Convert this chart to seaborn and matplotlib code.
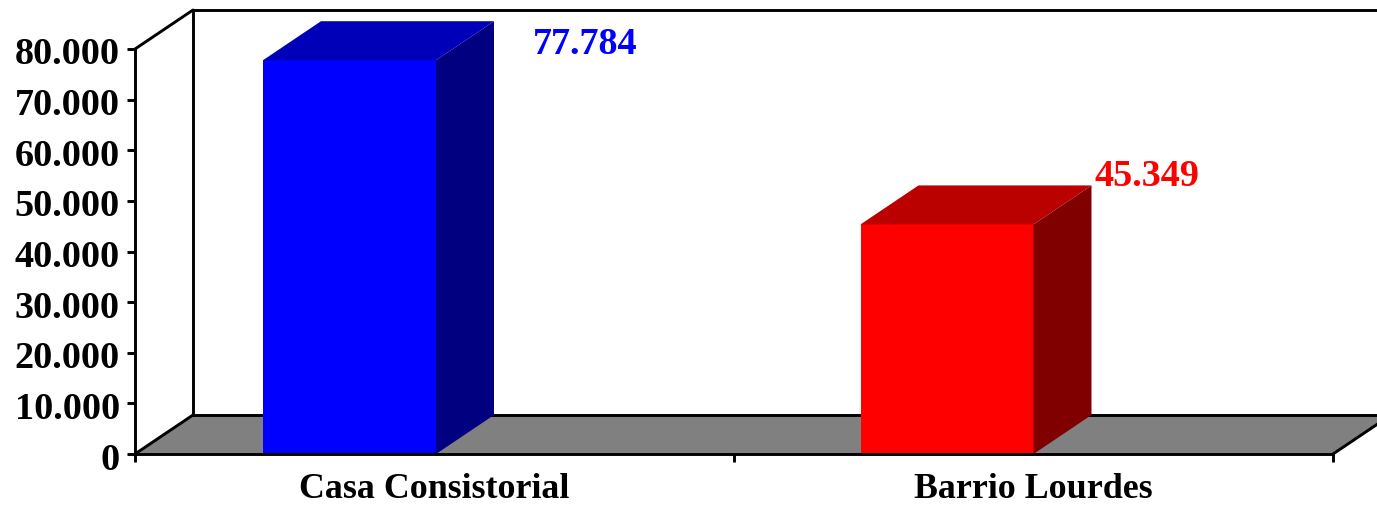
#!/usr/bin/env python3

import numpy as np
import pandas as pd
import seaborn as sns
import matplotlib.pyplot as plt
from matplotlib.patches import Polygon
from matplotlib.transforms import ScaledTranslation

categories = ["Casa Consistorial", "Barrio Lourdes"]
values = [77784, 45349]
value_labels = ["77.784", "45.349"]
ytick_values = [0, 10000, 20000, 30000, 40000, 50000, 60000, 70000, 80000]
ytick_labels = ["0", "10.000", "20.000", "30.000", "40.000", "50.000", "60.000", "70.000", "80.000"]

front_colors = ["#0000ff", "#ff0000"]
side_colors = ["#000080", "#800000"]
top_colors = ["#0000b8", "#bb0000"]
label_offsets = [97, 61]  # px right of the front face
label_dy = [-16, -48]

W, H = 1377, 505
DPI = 100
LEFT, RIGHT, TOP, BOTTOM = 135, 1333, 49, 454
DEPTH_X, DEPTH_Y = 58, 39
LW = 2.1

sns.set_theme(style="white")
plt.rcParams['font.family'] = ['Liberation Serif', 'DejaVu Serif']
plt.rcParams['font.weight'] = 'bold'

fig = plt.figure(figsize=(W / DPI, H / DPI), dpi=DPI, facecolor="white")
ax = fig.add_axes([LEFT / W, (H - BOTTOM) / H, (RIGHT - LEFT) / W, (BOTTOM - TOP) / H])

df = pd.DataFrame({"place": categories, "value": values})
sns.barplot(data=df, x="place", y="value", hue="place", palette=front_colors, saturation=1,
            width=173 / 597.5, legend=False, linewidth=0, ax=ax, zorder=3)

# bars sit left of the category centre, as the 3D depth shifts them
px_x = 597.5
xmin = 0 - (349.5 - LEFT) / px_x
xmax = xmin + (RIGHT - LEFT) / px_x
ax.set_xlim(xmin, xmax)
ax.set_ylim(0, 80000)
px_y = 80000 / (BOTTOM - TOP)
dx = DEPTH_X / px_x
dy = DEPTH_Y * px_y

for s in ["top", "right"]:
    ax.spines[s].set_visible(False)
for s in ["left", "bottom"]:
    ax.spines[s].set_linewidth(LW)
    ax.spines[s].set_color("black")
    ax.spines[s].set_zorder(5)

ax.set_yticks(ytick_values)
ax.set_yticklabels(ytick_labels, fontsize=27.5, fontweight="bold", color="black")
ax.set_xticks([xmin, (xmin + xmax) / 2, xmax])
ax.set_xticklabels([])
ax.set_xticks([(xmin + (xmin + xmax) / 2) / 2, ((xmin + xmax) / 2 + xmax) / 2], minor=True)
ax.set_xticklabels(categories, minor=True, fontsize=25.8, fontweight="bold", color="black")
ax.tick_params(axis="y", length=6, width=LW, color="black", pad=5, left=True)
ax.tick_params(axis="x", which="major", length=6, width=LW, color="black", bottom=True)
ax.tick_params(axis="x", which="minor", length=0, pad=14)
ax.set_xlabel("")
ax.set_ylabel("")
ax.patch.set_alpha(0)

# the tick labels sit a little under their ticks
shift = ScaledTranslation(0, -2 / DPI, fig.dpi_scale_trans)
for t in ax.get_yticklabels():
    t.set_transform(t.get_transform() + shift)

# floor and walls
ax.add_patch(Polygon([(xmin, 0), (xmin + dx, dy), (xmax + dx, dy), (xmax, 0)], closed=True,
                     facecolor="#808080", edgecolor="none", clip_on=False, zorder=1))
wall_top = 80000 + dy
line_kw = dict(color="black", lw=LW, clip_on=False, zorder=2, solid_capstyle="round")
ax.plot([xmin, xmin + dx], [0, dy], **line_kw)
ax.plot([xmin, xmin + dx], [80000, wall_top], **line_kw)
ax.plot([xmin + dx, xmin + dx], [dy, wall_top], **line_kw)
ax.plot([xmin + dx, xmax + dx], [wall_top, wall_top], **line_kw)
ax.plot([xmin + dx, xmax + dx], [dy, dy], **line_kw)
ax.plot([xmax, xmax + dx], [0, dy], **line_kw)

# side and top faces of the bars
for i, p in enumerate(ax.patches[:len(values)]):
    x0 = p.get_x()
    x1 = x0 + p.get_width()
    h = p.get_height()
    ax.add_patch(Polygon([(x1, 0), (x1 + dx, dy), (x1 + dx, h + dy), (x1, h)], closed=True,
                         facecolor=side_colors[i], edgecolor="none", clip_on=False, zorder=3))
    ax.add_patch(Polygon([(x0, h), (x0 + dx, h + dy), (x1 + dx, h + dy), (x1, h)], closed=True,
                         facecolor=top_colors[i], edgecolor="none", clip_on=False, zorder=3))
    ax.annotate(value_labels[i], xy=(x1, h), xytext=(label_offsets[i] * 72 / DPI, -label_dy[i] * 72 / DPI),
                textcoords="offset points", ha="left", va="center", fontsize=27.5, fontweight="bold",
                color=front_colors[i], annotation_clip=False, zorder=6)

fig.savefig("out.png", dpi=DPI)
plt.close(fig)
